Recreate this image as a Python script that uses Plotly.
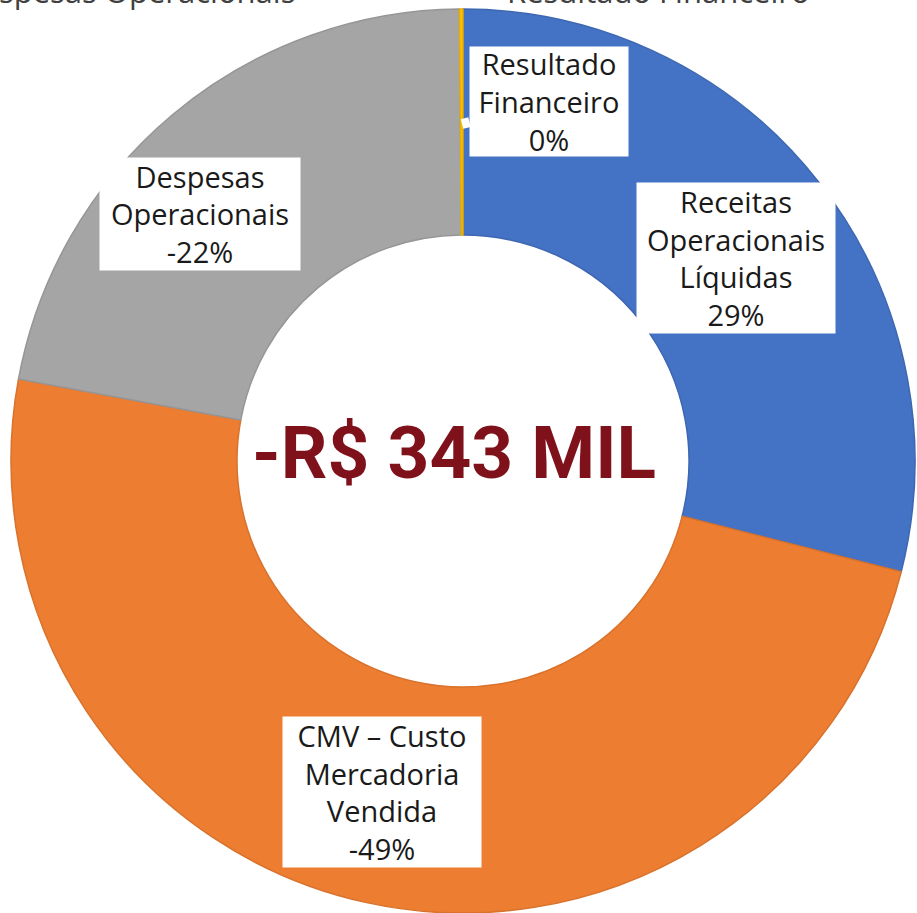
import plotly.graph_objects as go

# Resultado (R$ mil) por grupo de conta
categorias = ["Receitas Operacionais Líquidas", "CMV – Custo Mercadoria Vendida",
              "Despesas Operacionais", "Resultado Financeiro"]
valores = [237, -401, -180, 1]
rotulos = ["Receitas<br>Operacionais<br>Líquidas", "CMV – Custo<br>Mercadoria<br>Vendida",
           "Despesas<br>Operacionais", "Resultado<br>Financeiro"]
cores = ["#4472C4", "#ED7D31", "#A5A5A5", "#FFC000"]
bordas = ["#3E67B2", "#D8722C", "#969696", "#E8AF00"]

W, H = 917, 913
total_abs = sum(abs(v) for v in valores)
resultado = sum(valores)
pcts = [round(100 * v / total_abs) for v in valores]


def px(x, y):
    return x / W, 1 - y / H


fig = go.Figure(go.Pie(
    labels=categorias,
    values=[abs(v) for v in valores],
    hole=0.5,
    sort=False,
    direction="clockwise",
    rotation=0,
    textinfo="none",
    marker=dict(colors=cores, line=dict(color=bordas, width=1.5)),
    domain=dict(x=[10 / W, 916 / W], y=[0, 1 - 9 / H]),
))

# caixas de rótulo (centro e tamanho em pixels)
caixas = [(736, 258, 198, 150), (382, 792, 198, 150), (200, 214, 200, 112), (549, 102, 158, 109)]
fonte = dict(family="Open Sans", size=29, color="#1a1a1a")
anots = []
for rot, p, (cx, cy, bw, bh), cat in zip(rotulos, pcts, caixas, categorias):
    x, y = px(cx, cy)
    a = dict(text=f"{rot}<br>{p}%", x=x, y=y, xref="paper", yref="paper",
             xanchor="center", yanchor="middle",
             showarrow=False, font=fonte, bgcolor="white", borderpad=0,
             width=bw, height=bh, align="center", valign="middle")
    if cat == "Resultado Financeiro":
        tx, ty = px(462, 124)
        a.update(x=tx, y=ty, showarrow=True, ax=cx - 462, ay=cy - 124,
                 arrowcolor="white", arrowwidth=10, arrowhead=0, standoff=0)
    anots.append(a)

# valor total no centro
cx, cy = px(454, 453)
anots.append(dict(text=f"<b>-R$ {abs(resultado)} MIL</b>", x=cx, y=cy, xref="paper", yref="paper",
                  xanchor="center", yanchor="middle",
                  showarrow=False, font=dict(family="Roboto", size=73, color="#7F111B")))

# legenda cortada no topo
leg = dict(family="Open Sans", size=31, color="#404040")
anots.append(dict(text="Despesas Operacionais", x=297 / W, y=1, xref="paper", yref="paper",
                  xanchor="right", yanchor="bottom", yshift=-14, showarrow=False, font=leg))
anots.append(dict(text="Resultado Financeiro", x=812 / W, y=1, xref="paper", yref="paper",
                  xanchor="right", yanchor="bottom", yshift=-14, showarrow=False, font=leg))

fig.update_layout(width=W, height=H, margin=dict(l=0, r=0, t=0, b=0),
                  showlegend=False, paper_bgcolor="white", annotations=anots)
fig.write_html("out.html", config={"displayModeBar": False},
               post_script="document.body.style.margin = '0';")
